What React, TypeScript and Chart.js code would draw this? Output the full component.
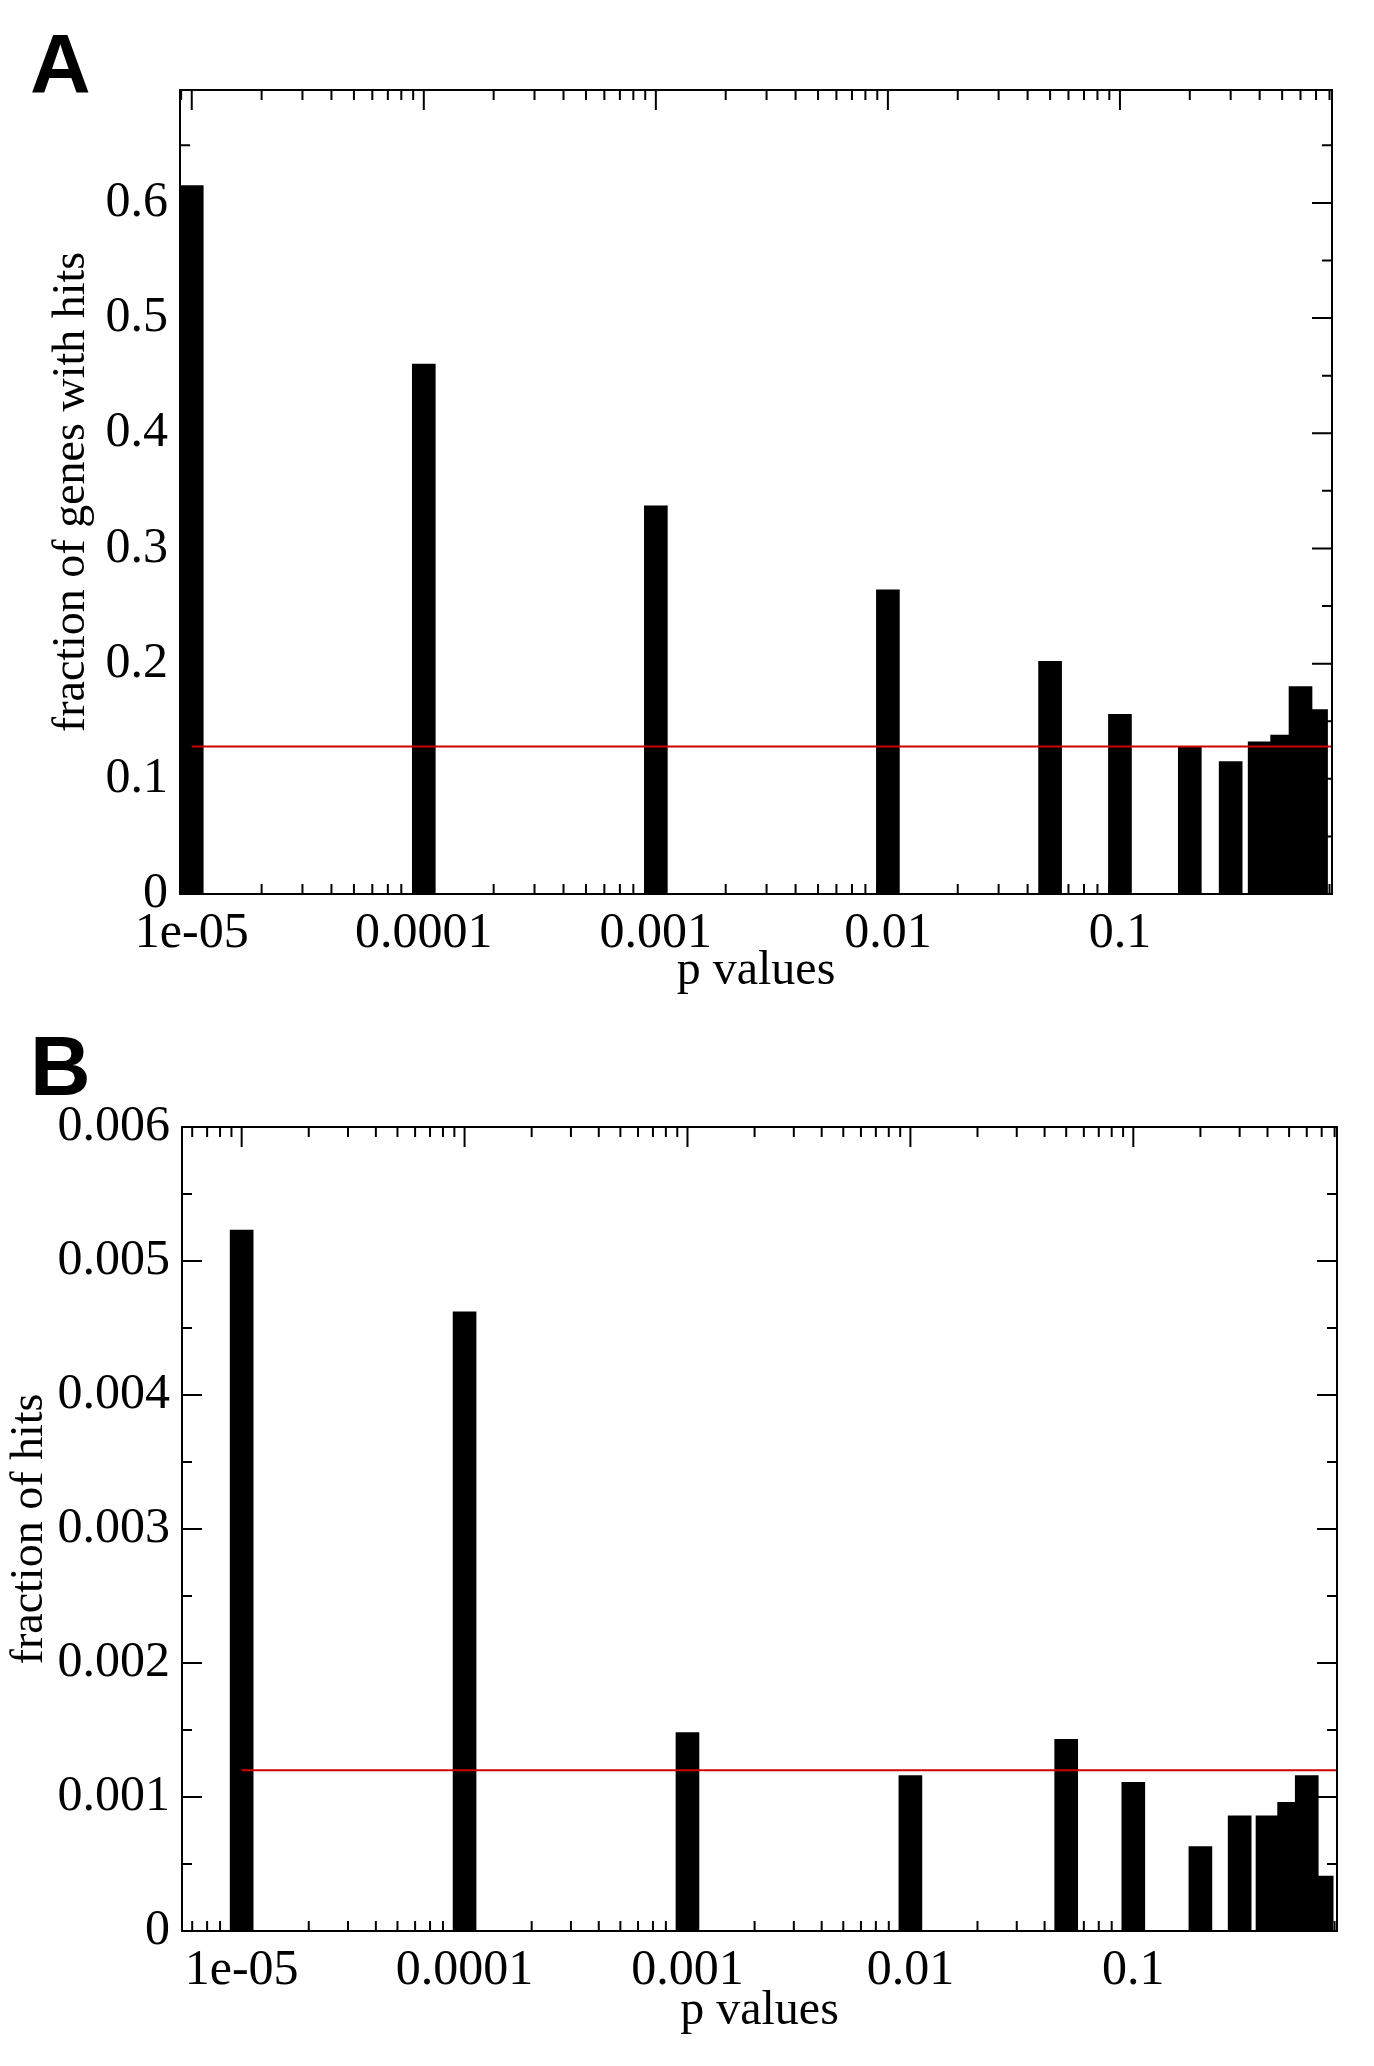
import React, { useEffect, useRef } from "react";
import { Chart, registerables } from "chart.js";
Chart.register(...registerables);

const pBins = [1e-5, 1e-4, 1e-3, 1e-2, 0.05, 0.1, 0.2, 0.3, 0.4, 0.5, 0.6, 0.7];
const fracGenes = [0.615, 0.46, 0.337, 0.264, 0.202, 0.156, 0.128, 0.115, 0.132, 0.138, 0.18, 0.16];
const fracHits = [0.00523, 0.00462, 0.00148, 0.00116, 0.00143, 0.00111, 0.00063, 0.00086, 0.00086, 0.00096, 0.00116, 0.00041];
const baselineA = 0.128;
const baselineB = 0.0012;

const FONT = "'Liberation Serif', 'DejaVu Serif', serif";

function fmt(v: number) {
  const k = Math.round(Math.log10(v));
  if (k === -5) return "1e-05";
  return (Math.pow(10, k)).toFixed(-k);
}

const framePlugin = {
  id: "frame",
  afterDraw(chart: any, _a: any, opts: any) {
    const { ctx, chartArea: ca } = chart;
    const xs = chart.scales.x, ys = chart.scales.y;
    ctx.save();
    ctx.strokeStyle = "#000";
    ctx.lineWidth = 2;
    ctx.strokeRect(ca.left, ca.top, ca.right - ca.left, ca.bottom - ca.top);
    const MJ = 20, MN = 10;
    ctx.beginPath();
    for (let e = -6; e <= 0; e++) {
      for (let m = 1; m <= 9; m++) {
        const v = m * Math.pow(10, e);
        if (v < xs.min || v > xs.max) continue;
        const px = xs.getPixelForValue(v);
        const L = m === 1 ? MJ : MN;
        ctx.moveTo(px, ca.bottom); ctx.lineTo(px, ca.bottom - L);
        ctx.moveTo(px, ca.top); ctx.lineTo(px, ca.top + L);
      }
    }
    const step = opts.step;
    for (let i = 0; i * step / 2 <= ys.max + 1e-12; i++) {
      const v = i * step / 2;
      const py = ys.getPixelForValue(v);
      const L = i % 2 === 0 ? MJ : MN;
      ctx.moveTo(ca.left, py); ctx.lineTo(ca.left + L, py);
      ctx.moveTo(ca.right, py); ctx.lineTo(ca.right - L, py);
    }
    ctx.stroke();
    ctx.restore();
  },
};

function Panel(props: { top: number; height: number; values: number[]; base: number; xmin: number; xmax: number; ymax: number; step: number; yTitle: string; pad: any; yW: number; xH: number; yTitleTop: number; label: string; labelTop: number; digits: number; xTitleBottom: number }) {
  const ref = useRef<HTMLCanvasElement>(null);
  useEffect(() => {
    const chart = new Chart(ref.current!, {
      type: "bar",
      data: {
        datasets: [
          {
            type: "line" as any,
            data: [{ x: 1e-5, y: props.base }, { x: props.xmax, y: props.base }],
            borderColor: "#d00000",
            borderWidth: 2,
            pointRadius: 0,
            order: 0,
          } as any,
          {
            data: pBins.map((p, i) => ({ x: p, y: props.values[i] })),
            backgroundColor: "#000",
            barThickness: 23,
            order: 1,
          } as any,
        ],
      },
      options: {
        animation: false,
        responsive: false,
        layout: { padding: props.pad },
        plugins: { legend: { display: false }, tooltip: { enabled: false }, frame: { step: props.step } } as any,
        scales: {
          x: {
            type: "logarithmic",
            min: props.xmin,
            max: props.xmax,
            grid: { display: false },
            border: { display: false },
            afterBuildTicks: (s: any) => {
              s.ticks = [1e-5, 1e-4, 1e-3, 1e-2, 0.1].map((v) => ({ value: v }));
            },
            afterFit: (s: any) => { s.height = props.xH; },
            ticks: { callback: (v: any) => fmt(Number(v)), color: "#000", font: { family: FONT, size: 50 }, maxRotation: 0, autoSkip: false, padding: 2 },
            title: { display: true, text: "p values", color: "#000", font: { family: FONT, size: 48 }, padding: { top: 0, bottom: props.xTitleBottom } },
          },
          y: {
            type: "linear",
            min: 0,
            max: props.ymax,
            grid: { display: false },
            border: { display: false },
            afterFit: (s: any) => { s.width = props.yW; },
            ticks: { stepSize: props.step, includeBounds: false, callback: (v: any) => (Number(v) === 0 ? "0" : Number(v).toFixed(props.digits)), color: "#000", font: { family: FONT, size: 50 }, padding: 4 },
            title: { display: true, text: props.yTitle, color: "#000", font: { family: FONT, size: 46 }, padding: { top: props.yTitleTop, bottom: 0 } },
          },
        },
      },
      plugins: [framePlugin],
    });
    return () => chart.destroy();
  }, []);
  return (
    <div style={{ position: "absolute", left: 0, top: props.top, width: 1374, height: props.height }}>
      <canvas ref={ref} width={1374} height={props.height} />
      <div style={{ position: "absolute", left: 30, top: props.labelTop, lineHeight: 1, fontFamily: "'Liberation Sans', Arial, sans-serif", fontWeight: "bold", fontSize: 84 }}>{props.label}</div>
    </div>
  );
}

export default function App() {
  return (
    <div style={{ position: "absolute", left: 0, top: 0, width: 1374, height: 2066, background: "#fff" }}>
      <Panel top={0} height={1000} label="A" labelTop={22} values={fracGenes} base={baselineA} xmin={8.9e-6} xmax={0.82} ymax={0.698} step={0.1} digits={1} yTitle="fraction of genes with hits" pad={{ top: 90, right: 42, left: 0, bottom: 0 }} yW={180} xH={106} yTitleTop={44} xTitleBottom={0} />
      <Panel top={1030} height={1036} label="B" labelTop={-6} values={fracHits} base={baselineB} xmin={5.4e-6} xmax={0.82} ymax={0.006} step={0.001} digits={3} yTitle="fraction of hits" pad={{ top: 97, right: 37, left: 0, bottom: 0 }} yW={182} xH={135} yTitleTop={2} xTitleBottom={26} />
    </div>
  );
}
